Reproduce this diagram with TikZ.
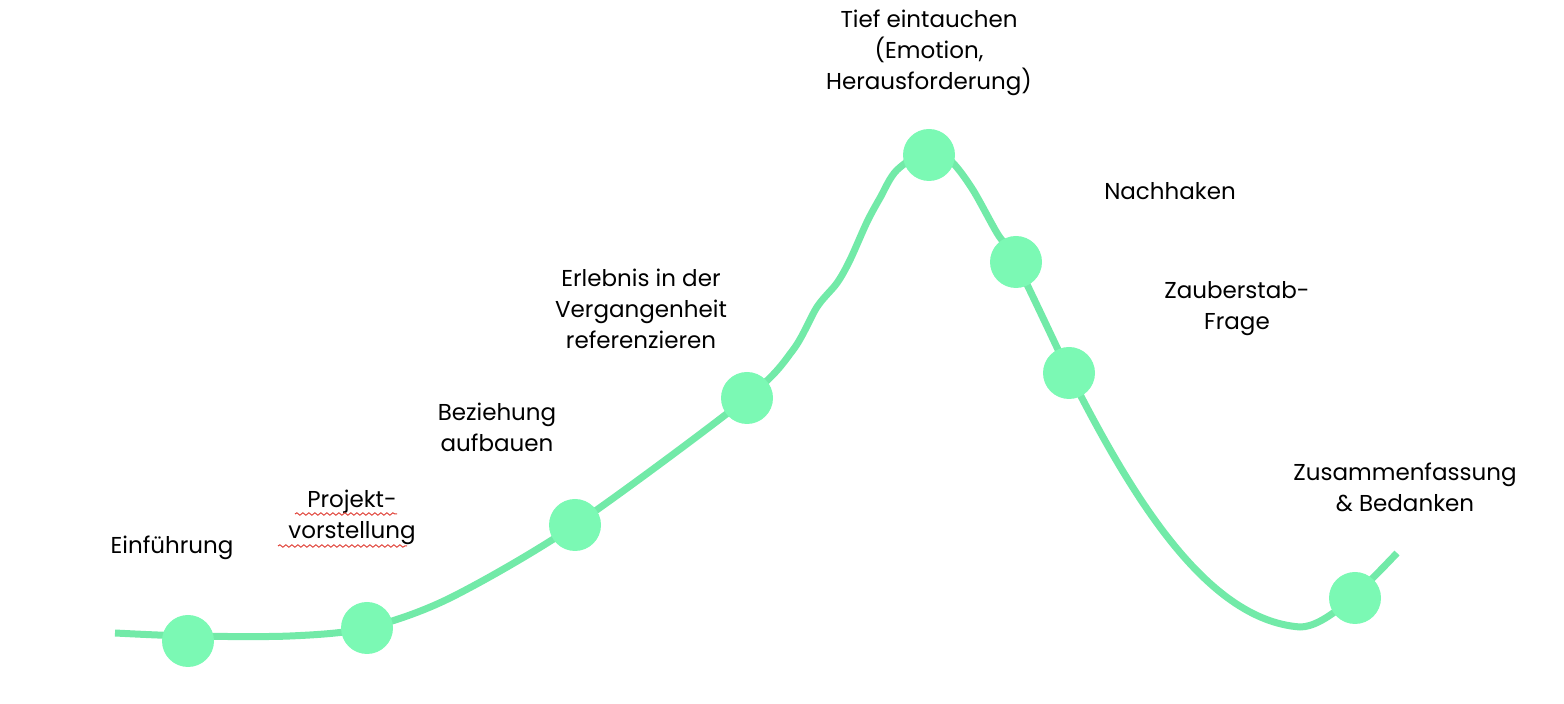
\documentclass[tikz,border=0pt]{standalone}
\usepackage{fontspec}
\setmainfont{Poppins}
\usetikzlibrary{decorations.pathmorphing}
\definecolor{curvegreen}{HTML}{72EAA8}
\definecolor{dotgreen}{HTML}{7BF9B4}
\definecolor{squiggle}{HTML}{E0443A}
\tikzset{
  dot/.style={circle, fill=dotgreen, minimum size=26pt, inner sep=0pt},
  lbl/.style={align=center, font=\fontsize{11.5}{15.5}\selectfont, text=black, inner sep=0pt},
  arc/.style={draw=curvegreen, line width=3.5pt, line cap=butt},
  spell/.style={draw=squiggle, line width=0.5pt, decorate, decoration={snake, segment length=3pt, amplitude=0.6pt}}
}
\begin{document}
\begin{tikzpicture}[x=0.5pt, y=-0.5pt]
\useasboundingbox (0,0) rectangle (1564,704);
% curve
\coordinate (start) at (115,633);
\coordinate (low) at (1300,627);
\coordinate (finish) at (1397,553);
\draw[arc] plot[smooth, tension=0.5] coordinates {
  (start) (188,636) (290,636) (367,628) (450,598) (575,525) (747,398)
  (793,350) (817,307) (837,283) (850,260) (867,222) (880,198) (897,170)
  (932,148) (953,163) (973,190) (997,233) (1016,262) (1069,373)}
  .. controls (1130,493) and (1205,620) .. (low)
  .. controls (1325,627) and (1360,592) .. (finish);
% dots
\node[dot] (d1) at (188,641) {};
\node[dot] (d2) at (367,628) {};
\node[dot] (d3) at (575,525) {};
\node[dot] (d4) at (747,398) {};
\node[dot] (d5) at (929,155) {};
\node[dot] (d6) at (1016,262) {};
\node[dot] (d7) at (1069,373) {};
\node[dot] (d8) at (1355,598) {};
% labels
\node[lbl] (l1) at (172,548) {Einführung};
\node[lbl] (l2) at (352,517) {Projekt-\\vorstellung};
\node[lbl] (l3) at (497,427) {Beziehung\\aufbauen};
\node[lbl] (l4) at (641,309) {Erlebnis in der\\Vergangenheit\\referenzieren};
\node[lbl] (l5) at (929,53) {Tief eintauchen\\(Emotion,\\Herausforderung)};
\node[lbl] (l6) at (1170,191) {Nachhaken};
\node[lbl] (l7) at (1237,309) {Zauberstab-\\Frage};
\node[lbl] (l8) at (1405,487) {Zusammenfassung\\\& Bedanken};
% spell-check squiggles
\draw[spell] (295,514) -- (397,514);
\draw[spell] (278,546) -- (407,546);
\end{tikzpicture}
\end{document}
